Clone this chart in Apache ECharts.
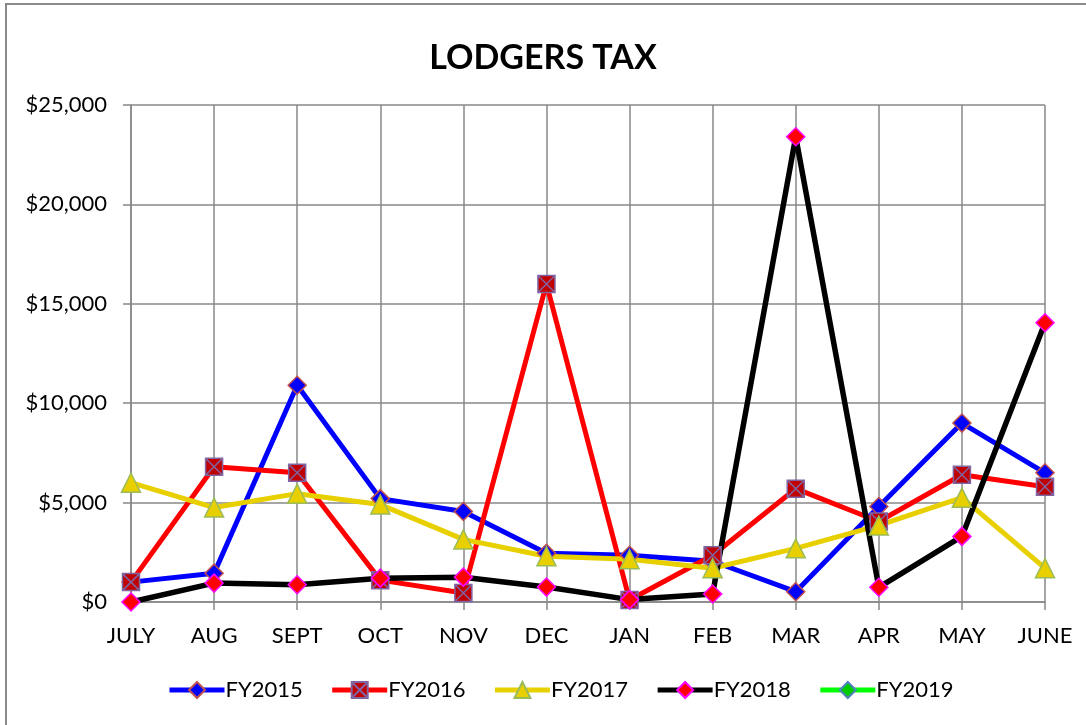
<!DOCTYPE html>
<html lang="en">
<head>
    <meta charset="UTF-8">
    <title>Lodgers Tax</title>
    <script src="https://cdn.jsdelivr.net/npm/echarts@6/dist/echarts.min.js"></script>
    <style>
        body { margin: 0; background: #fff; }
        #frame { position: absolute; left: 5px; top: 3px; width: 1200px; height: 800px;
                 border-left: 2px solid #8a8a8a; border-top: 2px solid #8a8a8a; }
        #main { position: absolute; left: 0; top: 0; width: 1086px; height: 725px; }
    </style>
</head>
<body>
<div id="frame"></div>
<div id="main"></div>
<script>
    var months = ['JULY', 'AUG', 'SEPT', 'OCT', 'NOV', 'DEC', 'JAN', 'FEB', 'MAR', 'APR', 'MAY', 'JUNE'];
    var fy2015 = [1000, 1450, 10900, 5200, 4550, 2450, 2350, 2050, 520, 4800, 9000, 6500];
    var fy2016 = [1000, 6800, 6500, 1100, 450, 16000, 100, 2350, 5700, 4050, 6400, 5800];
    var fy2017 = [6000, 4750, 5450, 4900, 3150, 2300, 2150, 1700, 2700, 3850, 5250, 1700];
    var fy2018 = [0, 950, 870, 1200, 1250, 750, 120, 400, 23400, 740, 3300, 14050];
    var fy2019 = [null, null, null, null, null, null, null, null, null, null, null, null];

    var font = 'Lato, "Open Sans", sans-serif';
    var squareX = 'path://M0,0L10,0L10,10L0,10Z M0,0L10,10 M10,0L0,10';

    function money(v) {
        return '$' + v.toString().replace(/\B(?=(\d{3})+(?!\d))/g, ',');
    }

    var myChart = echarts.init(document.getElementById('main'));
    var option = {
        animation: false,
        title: {
            text: 'LODGERS TAX',
            left: 'center',
            top: 36,
            textStyle: { fontFamily: font, fontSize: 34, fontWeight: 'bold', color: '#000' }
        },
        legend: {
            bottom: 19,
            left: 162,
            itemWidth: 55,
            itemHeight: 20,
            itemGap: 27,
            lineStyle: { width: 5 },
            textStyle: { fontFamily: font, fontSize: 22, color: '#000', padding: [0, 0, 0, -4] },
            data: ['FY2015', 'FY2016', 'FY2017', 'FY2018', 'FY2019']
        },
        grid: { left: 131, right: 41, top: 105, bottom: 123 },
        xAxis: {
            type: 'category',
            boundaryGap: false,
            data: months,
            axisLine: { lineStyle: { color: '#888', width: 1.5 } },
            axisTick: { show: true, length: 8, lineStyle: { color: '#888', width: 1.5 } },
            axisLabel: { fontFamily: font, fontSize: 22, color: '#000', margin: 23 },
            splitLine: { show: true, lineStyle: { color: '#888', width: 1.5 } }
        },
        yAxis: {
            type: 'value',
            min: 0,
            max: 25000,
            interval: 5000,
            axisLine: { show: true, lineStyle: { color: '#888', width: 1.5 } },
            axisTick: { show: true, length: 8, lineStyle: { color: '#888', width: 1.5 } },
            axisLabel: { fontFamily: font, fontSize: 22, color: '#000', margin: 24, formatter: money },
            splitLine: { show: true, lineStyle: { color: '#888', width: 1.5 } }
        },
        series: [
            {
                name: 'FY2015', type: 'line', data: fy2015,
                symbol: 'diamond', symbolSize: 18,
                lineStyle: { color: '#0000ff', width: 5 },
                itemStyle: { color: '#0000ff', borderColor: '#c0504d', borderWidth: 1.5 }
            },
            {
                name: 'FY2016', type: 'line', data: fy2016,
                symbol: squareX, symbolSize: 17,
                lineStyle: { color: '#ff0000', width: 5 },
                itemStyle: { color: '#c00000', borderColor: '#8064a2', borderWidth: 1.5 }
            },
            {
                name: 'FY2017', type: 'line', data: fy2017,
                symbol: 'triangle', symbolSize: 19,
                lineStyle: { color: '#e8d000', width: 5 },
                itemStyle: { color: '#e8d000', borderColor: '#9bbb59', borderWidth: 1.5 }
            },
            {
                name: 'FY2018', type: 'line', data: fy2018,
                symbol: 'diamond', symbolSize: 18,
                lineStyle: { color: '#000000', width: 5.5 },
                itemStyle: { color: '#ff0000', borderColor: '#ff00ff', borderWidth: 1.5 }
            },
            {
                name: 'FY2019', type: 'line', data: fy2019,
                symbol: 'diamond', symbolSize: 18,
                lineStyle: { color: '#00ff00', width: 5 },
                itemStyle: { color: '#00cc00', borderColor: '#4f81bd', borderWidth: 1.5 }
            }
        ]
    };
    myChart.setOption(option);
</script>
</body>
</html>
